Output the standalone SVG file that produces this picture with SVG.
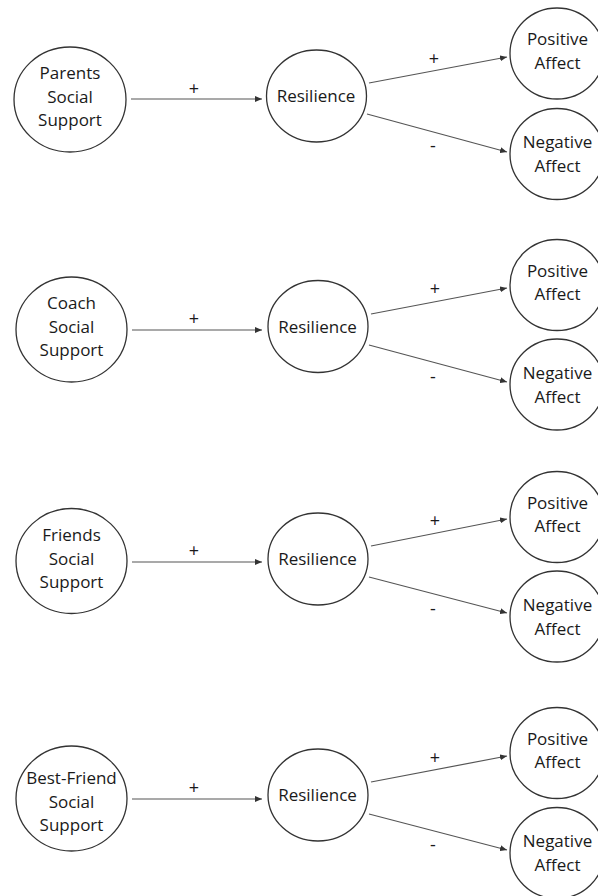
<svg xmlns="http://www.w3.org/2000/svg" width="598" height="896" viewBox="0 0 598 896">
<defs>
<style>
.node ellipse{fill:#fff;stroke:#333;stroke-width:1.3}
text{font-family:"Open Sans","Liberation Sans",sans-serif;font-size:17px;fill:#1a1a1a;text-anchor:middle}
.edge{stroke:#555;stroke-width:1.2;fill:none;marker-end:url(#ah)}
.lbl{font-size:18px}
</style>
<marker id="ah" markerUnits="userSpaceOnUse" markerWidth="8" markerHeight="6" refX="7" refY="3" orient="auto">
<path d="M0,0 L7,3 L0,6 z" fill="#333"/>
</marker>
</defs>
<rect width="598" height="896" fill="#fff"/>
<g id="connectors">
<line class="edge" x1="131" y1="99" x2="262" y2="99"/>
<line class="edge" x1="369" y1="83" x2="507" y2="57"/>
<line class="edge" x1="367" y1="114" x2="507" y2="152"/>
<line class="edge" x1="132" y1="330" x2="262" y2="330"/>
<line class="edge" x1="371" y1="314" x2="507" y2="288"/>
<line class="edge" x1="369" y1="345" x2="507" y2="382"/>
<line class="edge" x1="132" y1="562" x2="262" y2="562"/>
<line class="edge" x1="371" y1="546" x2="507" y2="519"/>
<line class="edge" x1="369" y1="577" x2="507" y2="613"/>
<line class="edge" x1="132" y1="799" x2="262" y2="799"/>
<line class="edge" x1="371" y1="782" x2="507" y2="756"/>
<line class="edge" x1="369" y1="814" x2="507" y2="850"/>
<text class="lbl" x="194" y="94.5">+</text>
<text class="lbl" x="434" y="64.5">+</text>
<text class="lbl" x="433" y="152">-</text>
<text class="lbl" x="194" y="324.5">+</text>
<text class="lbl" x="435" y="295">+</text>
<text class="lbl" x="433" y="382.5">-</text>
<text class="lbl" x="194" y="556.5">+</text>
<text class="lbl" x="435" y="526.5">+</text>
<text class="lbl" x="433" y="615">-</text>
<text class="lbl" x="194" y="793.5">+</text>
<text class="lbl" x="435" y="763.5">+</text>
<text class="lbl" x="433" y="851">-</text>
</g>
<g id="parents" class="node"><ellipse cx="70" cy="99.5" rx="56" ry="52.5"/><text x="70" y="79">Parents</text><text x="70" y="102.5">Social</text><text x="70" y="126">Support</text></g>
<g id="resilience1" class="node"><ellipse cx="316.5" cy="96" rx="50" ry="46"/><text x="316" y="102">Resilience</text></g>
<g id="positive1" class="node"><ellipse cx="557" cy="53.5" rx="47" ry="45.5"/><text x="557.5" y="45">Positive</text><text x="557.5" y="68.5">Affect</text></g>
<g id="negative1" class="node"><ellipse cx="557" cy="154" rx="47" ry="45.5"/><text x="557.5" y="148">Negative</text><text x="557.5" y="172">Affect</text></g>
<g id="coach" class="node"><ellipse cx="71.5" cy="329.5" rx="55.5" ry="52.5"/><text x="71.5" y="309">Coach</text><text x="71.5" y="332.5">Social</text><text x="71.5" y="356">Support</text></g>
<g id="resilience2" class="node"><ellipse cx="318" cy="326.5" rx="50" ry="46"/><text x="317.5" y="332.5">Resilience</text></g>
<g id="positive2" class="node"><ellipse cx="557" cy="285" rx="47" ry="45.5"/><text x="557.5" y="276.5">Positive</text><text x="557.5" y="300">Affect</text></g>
<g id="negative2" class="node"><ellipse cx="557" cy="384.5" rx="47" ry="45.5"/><text x="557.5" y="378.5">Negative</text><text x="557.5" y="402.5">Affect</text></g>
<g id="friends" class="node"><ellipse cx="71.5" cy="561" rx="55.5" ry="52.5"/><text x="71.5" y="541">Friends</text><text x="71.5" y="564.5">Social</text><text x="71.5" y="588">Support</text></g>
<g id="resilience3" class="node"><ellipse cx="318" cy="559" rx="50" ry="46"/><text x="317.5" y="565">Resilience</text></g>
<g id="positive3" class="node"><ellipse cx="557" cy="517" rx="47" ry="45.5"/><text x="557.5" y="508.5">Positive</text><text x="557.5" y="532">Affect</text></g>
<g id="negative3" class="node"><ellipse cx="557" cy="616.5" rx="47" ry="45.5"/><text x="557.5" y="610.5">Negative</text><text x="557.5" y="634.5">Affect</text></g>
<g id="bestfriend" class="node"><ellipse cx="71.5" cy="798.5" rx="55.5" ry="52.5"/><text x="71.5" y="784">Best-Friend</text><text x="71.5" y="807.5">Social</text><text x="71.5" y="831">Support</text></g>
<g id="resilience4" class="node"><ellipse cx="318" cy="795" rx="50" ry="46"/><text x="317.5" y="801">Resilience</text></g>
<g id="positive4" class="node"><ellipse cx="557" cy="753" rx="47" ry="45.5"/><text x="557.5" y="744.5">Positive</text><text x="557.5" y="768">Affect</text></g>
<g id="negative4" class="node"><ellipse cx="557" cy="853" rx="47" ry="45.5"/><text x="557.5" y="847">Negative</text><text x="557.5" y="871">Affect</text></g>
</svg>
